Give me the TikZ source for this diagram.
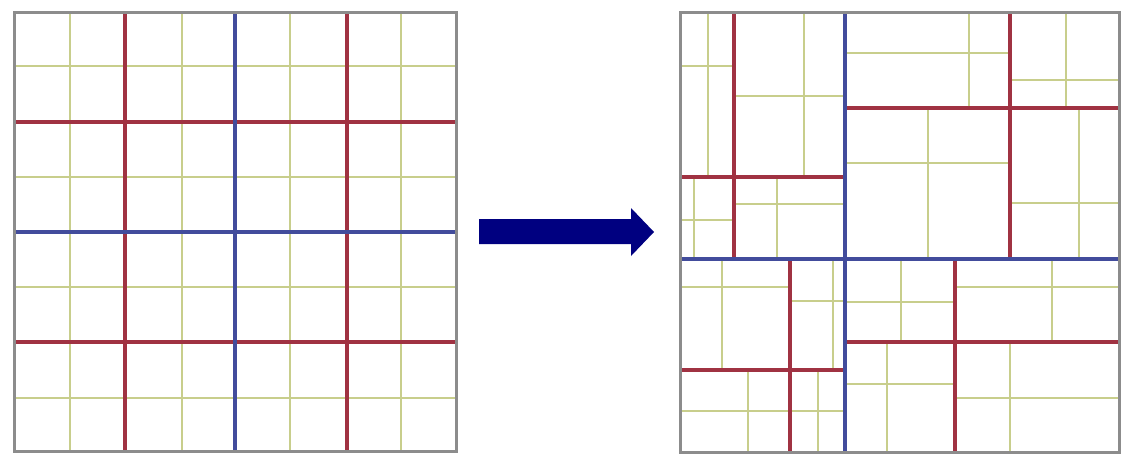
\documentclass[tikz,border=0pt]{standalone}
\begin{document}
\begin{tikzpicture}[x=1pt,y=-1pt,
  fine/.style={draw=yellowline,line width=1.6pt},
  mid/.style={draw=redline,line width=3.2pt},
  main/.style={draw=blueline,line width=4pt},
  frame/.style={draw=frameline,line width=3pt},
  bigarrow/.style={fill=navyarrow,draw=none}]
\definecolor{yellowline}{RGB}{200,206,140}
\definecolor{redline}{RGB}{160,50,66}
\definecolor{blueline}{RGB}{66,76,156}
\definecolor{frameline}{RGB}{140,140,140}
\definecolor{navyarrow}{RGB}{0,0,128}
\useasboundingbox (0,0) rectangle (1124,455);
% ---------- left regular grid ----------
\foreach \v in {70,182,290,401} \draw[fine] (\v,12) -- (\v,451);
\foreach \h in {66,177,287,398} \draw[fine] (14,\h) -- (456,\h);
\foreach \v in {125,347} \draw[mid] (\v,12) -- (\v,451);
\foreach \h in {122,342} \draw[mid] (14,\h) -- (456,\h);
\draw[main] (235,12) -- (235,451);
\draw[main] (14,232) -- (456,232);
\draw[frame] (14,12) rectangle (456,451);
% ---------- arrow ----------
\fill[bigarrow] (479,219) -- (631,219) -- (631,208) -- (654,232) -- (631,256) -- (631,244) -- (479,244) -- cycle;
% ---------- right adaptive grid ----------
% top-left quadrant
\draw[fine] (708,12) -- (708,177); \draw[fine] (680,66) -- (734,66);
\draw[fine] (804,12) -- (804,177); \draw[fine] (734,96) -- (845,96);
\draw[fine] (694,177) -- (694,259); \draw[fine] (680,220) -- (734,220);
\draw[fine] (777,177) -- (777,259); \draw[fine] (734,204) -- (845,204);
% top-right quadrant
\draw[fine] (969,12) -- (969,108); \draw[fine] (845,53) -- (1010,53);
\draw[fine] (1066,12) -- (1066,108); \draw[fine] (1010,80) -- (1119,80);
\draw[fine] (928,108) -- (928,259); \draw[fine] (845,163) -- (1010,163);
\draw[fine] (1079,108) -- (1079,259); \draw[fine] (1010,203) -- (1119,203);
% bottom-left quadrant
\draw[fine] (722,259) -- (722,370); \draw[fine] (680,287) -- (790,287);
\draw[fine] (833,259) -- (833,370); \draw[fine] (790,301) -- (845,301);
\draw[fine] (748,370) -- (748,452); \draw[fine] (680,411) -- (845,411);
\draw[fine] (818,370) -- (818,452);
% bottom-right quadrant
\draw[fine] (901,259) -- (901,342); \draw[fine] (845,302) -- (955,302);
\draw[fine] (1052,259) -- (1052,342); \draw[fine] (955,287) -- (1119,287);
\draw[fine] (887,342) -- (887,452); \draw[fine] (845,384) -- (955,384);
\draw[fine] (1010,342) -- (1010,452); \draw[fine] (955,398) -- (1119,398);
% red splits
\draw[mid] (734,12) -- (734,259); \draw[mid] (680,177) -- (845,177);
\draw[mid] (1010,12) -- (1010,259); \draw[mid] (845,108) -- (1119,108);
\draw[mid] (790,259) -- (790,452); \draw[mid] (680,370) -- (845,370);
\draw[mid] (955,259) -- (955,452); \draw[mid] (845,342) -- (1119,342);
% blue splits
\draw[main] (845,12) -- (845,452);
\draw[main] (680,259) -- (1119,259);
\draw[frame] (680,12) rectangle (1119,452);
\end{tikzpicture}
\end{document}
